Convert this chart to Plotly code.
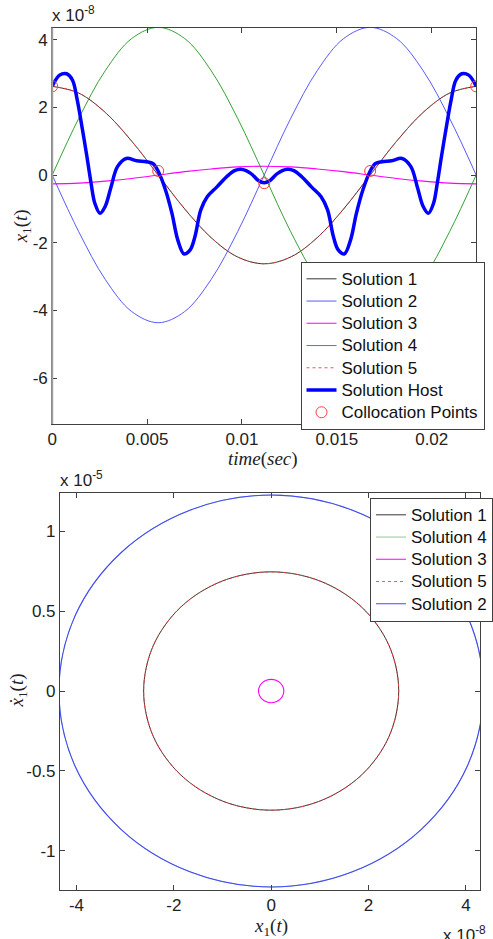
import plotly.graph_objects as go

# ---------------- data ----------------
# time samples for the pure solutions (one period)
t_sol = [0, 0.001396, 0.002793, 0.004189, 0.005585, 0.006981, 0.008378, 0.009774,
         0.01117, 0.012566, 0.013963, 0.015359, 0.016755, 0.018151, 0.019548, 0.020944, 0.02234]
sol1 = [2.62, 2.42, 1.85, 1.00, 0.0, -1.00, -1.85, -2.42, -2.62, -2.42, -1.85, -1.00, 0.0, 1.00, 1.85, 2.42, 2.62]
sol2 = [0.0, -1.67, -3.08, -4.03, -4.36, -4.03, -3.08, -1.67, 0.0, 1.67, 3.08, 4.03, 4.36, 4.03, 3.08, 1.67, 0.0]
sol3 = [-0.26, -0.24, -0.18, -0.10, 0.0, 0.10, 0.18, 0.24, 0.26, 0.24, 0.18, 0.10, 0.0, -0.10, -0.18, -0.24, -0.26]
sol4 = [0.0, 1.67, 3.08, 4.03, 4.36, 4.03, 3.08, 1.67, 0.0, -1.67, -3.08, -4.03, -4.36, -4.03, -3.08, -1.67, 0.0]
sol5 = [2.62, 2.42, 1.85, 1.00, 0.0, -1.00, -1.85, -2.42, -2.62, -2.42, -1.85, -1.00, 0.0, 1.00, 1.85, 2.42, 2.62]

# host solution
t_host = [0, 0.00039, 0.00076, 0.00107, 0.00132, 0.00157, 0.00183, 0.00205, 0.00225, 0.00252,
          0.00279, 0.00310, 0.00344, 0.00391, 0.00445, 0.00496, 0.00530, 0.00558, 0.00597, 0.00631,
          0.00662, 0.00695, 0.00727, 0.00752, 0.00783, 0.00817, 0.00868, 0.00919, 0.00961, 0.00995,
          0.01046, 0.01088, 0.01117, 0.01146, 0.01188, 0.01239, 0.01273, 0.01315, 0.01366, 0.01417,
          0.01451, 0.01482, 0.01507, 0.01539, 0.01572, 0.01603, 0.01637, 0.01676, 0.01704, 0.01738,
          0.01789, 0.01843, 0.01890, 0.01924, 0.01955, 0.01982, 0.02009, 0.02029, 0.02051, 0.02077,
          0.02102, 0.02127, 0.02158, 0.02195, 0.02234]
x_host = [2.62, 2.95, 2.99, 2.80, 2.21, 1.42, 0.54, -0.25, -0.84, -1.13,
          -0.93, -0.35, 0.25, 0.49, 0.42, 0.39, 0.34, 0.12, -0.44, -1.13,
          -1.92, -2.33, -2.21, -1.82, -1.03, -0.64, -0.35, -0.05, 0.13, 0.17,
          0.05, -0.17, -0.23, -0.17, 0.05, 0.17, 0.13, -0.05, -0.35, -0.64,
          -1.03, -1.82, -2.21, -2.33, -1.92, -1.13, -0.44, 0.12, 0.34, 0.39,
          0.42, 0.49, 0.25, -0.35, -0.93, -1.13, -0.84, -0.25, 0.54, 1.42,
          2.21, 2.80, 2.99, 2.95, 2.62]

# collocation points
t_coll = [0, 0.005585, 0.01117, 0.016755, 0.02234]
x_coll = [2.62, 0.12, -0.24, 0.12, 2.62]

# phase portrait velocities (x 1e-5)
v1 = [0.0, -0.285, -0.527, -0.688, -0.745, -0.688, -0.527, -0.285, 0.0, 0.285, 0.527, 0.688, 0.745, 0.688, 0.527, 0.285, 0.0]
v2 = [-1.225, -1.13, -0.866, -0.469, 0.0, 0.469, 0.866, 1.13, 1.225, 1.13, 0.866, 0.469, 0.0, -0.469, -0.866, -1.13, -1.225]
v3 = [0.0, 0.028, 0.052, 0.067, 0.073, 0.067, 0.052, 0.028, 0.0, -0.028, -0.052, -0.067, -0.073, -0.067, -0.052, -0.028, 0.0]
v4 = [1.225, 1.13, 0.866, 0.469, 0.0, -0.469, -0.866, -1.13, -1.225, -1.13, -0.866, -0.469, 0.0, 0.469, 0.866, 1.13, 1.225]
v5 = [0.0, -0.285, -0.527, -0.688, -0.745, -0.688, -0.527, -0.285, 0.0, 0.285, 0.527, 0.688, 0.745, 0.688, 0.527, 0.285, 0.0]

# tick labels
top_xticks = [0, 0.005, 0.01, 0.015, 0.02]
top_xtext = ["0", "0.005", "0.01", "0.015", "0.02"]
top_yticks = [4, 2, 0, -2, -4, -6]
top_ytext = ["4", "2", "0", "-2", "-4", "-6"]
bot_xticks = [-4, -2, 0, 2, 4]
bot_xtext = ["-4", "-2", "0", "2", "4"]
bot_yticks = [1, 0.5, 0, -0.5, -1]
bot_ytext = ["1", "0.5", "0", "-0.5", "-1"]

# ---------------- figure ----------------
W, H = 493, 939
C1 = "#000000"
C2 = "rgb(70,70,255)"
C3 = "#ff00ff"
C4 = "rgb(30,150,30)"
C5 = "rgb(255,60,60)"
FONT = "Liberation Sans, Arial, sans-serif"

fig = go.Figure()


def lbl(s):
    return "<span style='font-size:17px'>" + s + "</span>"


def line(x, y, name, color, width, dash="solid", xa="x", ya="y", legend="legend"):
    fig.add_trace(go.Scatter(x=x, y=y, name=lbl(name), mode="lines", xaxis=xa, yaxis=ya, legend=legend,
                             line=dict(color=color, width=width, dash=dash, shape="spline", smoothing=1.0)))

# top panel
line(t_sol, sol1, "Solution 1", C1, 0.8)
line(t_sol, sol2, "Solution 2", C2, 0.9)
line(t_sol, sol3, "Solution 3", C3, 1.1)
line(t_sol, sol4, "Solution 4", C4, 0.9)
line(t_sol, sol5, "Solution 5", C5, 0.9, dash="dot")
line(t_host, x_host, "Solution Host", "#0000ff", 3.5)
fig.add_trace(go.Scatter(x=t_coll, y=x_coll, name=lbl("Collocation Points"), mode="markers",
                         xaxis="x", yaxis="y", legend="legend",
                         marker=dict(symbol="circle-open", size=11, color="rgb(255,60,60)",
                                     line=dict(width=1, color="rgb(255,60,60)"))))

# bottom panel (phase portrait)
line(sol1, v1, "Solution 1", C1, 0.8, xa="x2", ya="y2", legend="legend2")
line(sol4, v4, "Solution 4", C4, 0.5, xa="x2", ya="y2", legend="legend2")
line(sol3, v3, "Solution 3", C3, 1.1, xa="x2", ya="y2", legend="legend2")
line(sol5, v5, "Solution 5", C5, 0.9, dash="dot", xa="x2", ya="y2", legend="legend2")
line(sol2, v2, "Solution 2", C2, 1.1, xa="x2", ya="y2", legend="legend2")

axis_common = dict(showline=True, linecolor="#404040", linewidth=1, mirror="ticks",
                   ticks="inside", ticklen=5, tickcolor="#404040", showgrid=False,
                   zeroline=False, tickfont=dict(family=FONT, size=17, color="#222"),
                   tickmode="array")

leg_font = dict(family=FONT, size=14.8, color="#111")
fig.update_layout(
    width=W, height=H, margin=dict(l=0, r=0, t=0, b=0),
    paper_bgcolor="white", plot_bgcolor="white",
    font=dict(family=FONT, size=17, color="#222"),
    xaxis=dict(domain=[49 / W, 489 / W], range=[0, 0.02234], anchor="y",
               tickvals=top_xticks, ticktext=top_xtext, **axis_common),
    yaxis=dict(domain=[1 - 424 / H, 1 - 27.7 / H], range=[-7.35, 4.35], anchor="x",
               tickvals=top_yticks, ticktext=top_ytext, **axis_common),
    xaxis2=dict(domain=[57 / W, 1.0], range=[-4.34, 4.29], anchor="y2",
                tickvals=bot_xticks, ticktext=bot_xtext, **axis_common),
    yaxis2=dict(domain=[1 - 890 / H, 1 - 493.3 / H], range=[-1.244, 1.236], anchor="x2",
                tickvals=bot_yticks, ticktext=bot_ytext, **axis_common),
    legend=dict(x=306.7 / W, y=1 - 261.7 / H, xanchor="left", yanchor="top",
                bgcolor="white", bordercolor="#404040", borderwidth=1,
                font=leg_font, itemwidth=30),
    legend2=dict(x=379 / W, y=1 - 497.7 / H, xanchor="left", yanchor="top",
                 bgcolor="white", bordercolor="#404040", borderwidth=1,
                 font=leg_font, itemwidth=30),
    showlegend=True,
)

# gray left spine of top panel as in the reference
fig.add_shape(type="line", xref="x domain", yref="y domain", x0=0, x1=0, y0=0, y1=1,
              line=dict(color="#a0a0a0", width=2))

ann_font = dict(family=FONT, size=17, color="#222")
serif = dict(family="Liberation Serif, DejaVu Serif, serif", size=19, color="#222")
annotations = [
    dict(text="x 10<sup>-8</sup>", x=47 / W, y=1 - 27 / H, xanchor="left", yanchor="bottom", font=ann_font),
    dict(text="x 10<sup>-5</sup>", x=55 / W, y=1 - 492 / H, xanchor="left", yanchor="bottom", font=ann_font),
    dict(text="x 10<sup>-8</sup>", x=453 / W, y=1 - 921 / H, xanchor="left", yanchor="top", font=ann_font),
    dict(text="<i>x</i><sub>1</sub>(<i>t</i>)", x=18 / W, y=1 - 226 / H, textangle=-90,
         xanchor="center", yanchor="middle", font=serif),
    dict(text="<i>time</i>(<i>sec</i>)", x=268 / W, y=1 - 459 / H, xanchor="center", yanchor="middle", font=serif),
    dict(text="<i>x</i><sub>1</sub>(<i>t</i>)", x=276 / W, y=1 - 927 / H, xanchor="center", yanchor="middle", font=serif),
    dict(text="<i>x\u0307</i><sub>1</sub>(<i>t</i>)", x=14 / W, y=1 - 690 / H, textangle=-90,
         xanchor="center", yanchor="middle", font=serif),
]
for a in annotations:
    fig.add_annotation(xref="paper", yref="paper", showarrow=False, **a)

fig.write_html("out.html")
